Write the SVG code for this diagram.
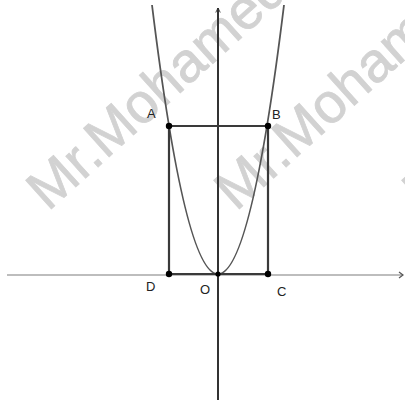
<svg xmlns="http://www.w3.org/2000/svg" width="405" height="405" viewBox="0 0 405 405">
<style>
.wm{font-family:"Liberation Sans",Arial,sans-serif;font-size:56px;fill:#d2d2d2;stroke:#d2d2d2;stroke-width:0.8}
.lbl{font-family:"Liberation Sans",Arial,sans-serif;font-size:13px;fill:#222}
.axis{stroke:#333;stroke-width:2;fill:none}
.xaxis{stroke:#bdbdbd;stroke-width:1.8;fill:none}
.side{stroke:#3a3a3a;stroke-width:2.2;fill:none}
.curve{stroke:#555;stroke-width:1.8;fill:none}
.pt{fill:#000}
</style>
<defs>
<marker id="arr" viewBox="0 0 8 8" refX="7" refY="4" markerWidth="6" markerHeight="6" orient="auto" markerUnits="userSpaceOnUse">
<path d="M1,1 L7,4 L1,7" fill="none" stroke="#333" stroke-width="1.2"/>
</marker>
</defs>
<rect width="405" height="405" fill="#fff"/>
<g id="watermark">
<text class="wm" transform="translate(48,212) rotate(-42)">Mr.Mohamed</text>
<text class="wm" transform="translate(236,212) rotate(-42)">Mr.Mohamed</text>
<text class="wm" transform="translate(424,212) rotate(-42)">Mr.Mohamed</text>
</g>
<g id="connectors">
<line class="xaxis" x1="7" y1="275" x2="403" y2="275"/>
<path d="M399,272 L403,275 L399,278" fill="none" stroke="#555" stroke-width="1.2"/>
<line class="axis" x1="218" y1="400" x2="218" y2="8" marker-end="url(#arr)"/>
<path class="curve" d="M152,5 Q218,543 284,5"/>
<line class="side" x1="169" y1="126" x2="268" y2="126"/>
<line class="side" x1="169" y1="126" x2="169" y2="274"/>
<line class="side" x1="268" y1="126" x2="268" y2="274"/>
<line class="side" x1="169" y1="274" x2="268" y2="274"/>
</g>
<g id="A"><circle class="pt" cx="169" cy="126" r="3.2"/><text class="lbl" x="147" y="118">A</text></g>
<g id="B"><circle class="pt" cx="268" cy="126" r="3.2"/><text class="lbl" x="272" y="119">B</text></g>
<g id="C"><circle class="pt" cx="268" cy="274" r="3.2"/><text class="lbl" x="277" y="296">C</text></g>
<g id="D"><circle class="pt" cx="169" cy="274" r="3.2"/><text class="lbl" x="146" y="291">D</text></g>
<g id="O"><circle class="pt" cx="218" cy="274" r="2.6"/><text class="lbl" x="200" y="294">O</text></g>
</svg>
